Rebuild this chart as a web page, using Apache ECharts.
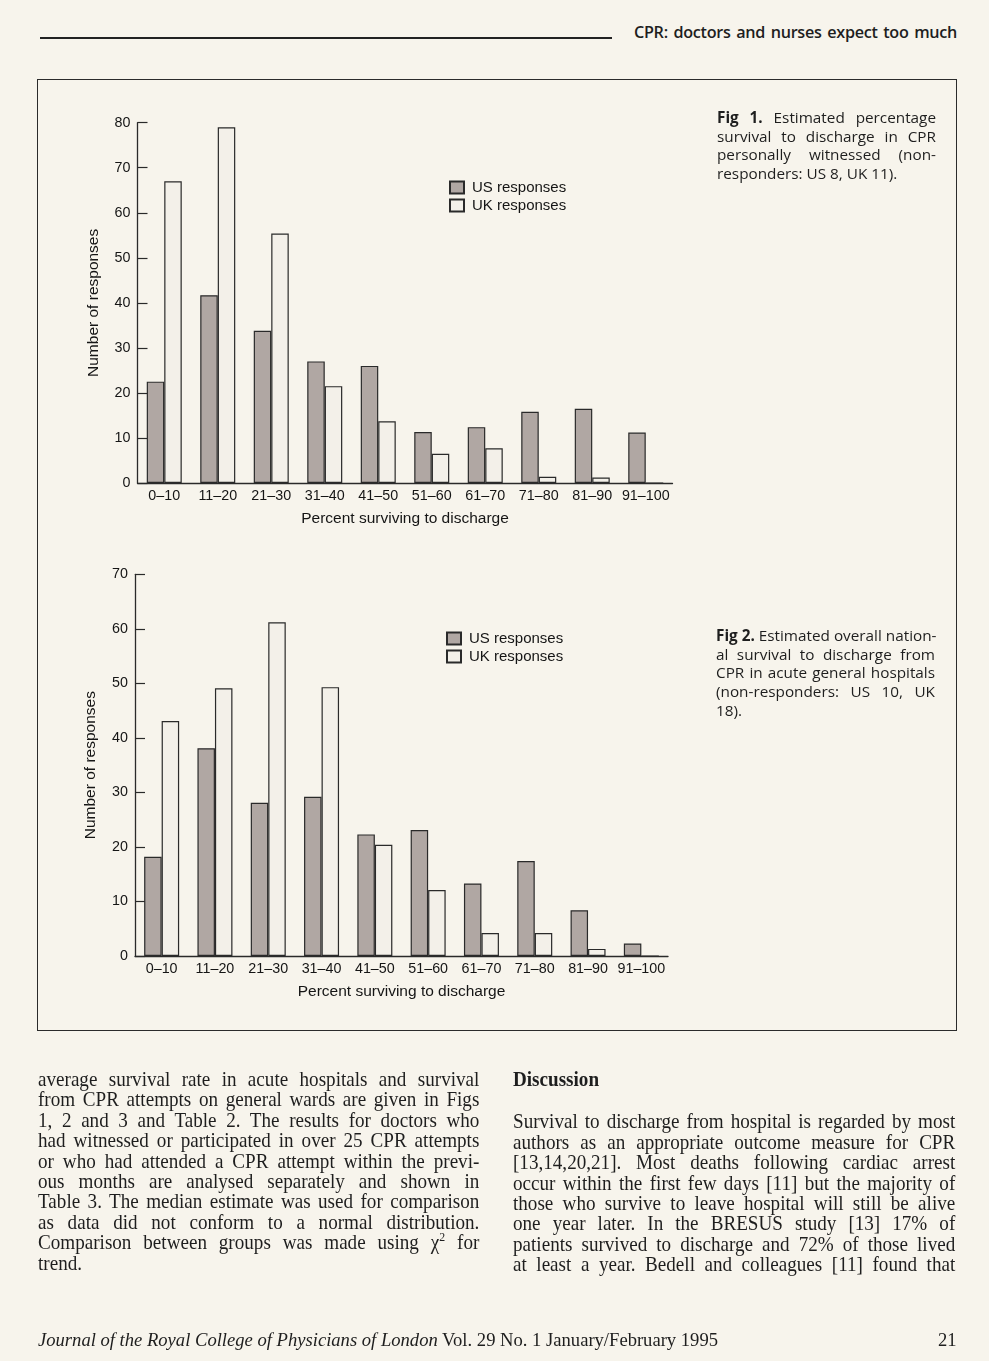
<!DOCTYPE html>
<html>
<head>
<meta charset="utf-8">
<script src="https://cdn.jsdelivr.net/npm/echarts@6/dist/echarts.min.js"></script>
<style>
  html, body { margin:0; padding:0; background:#f7f4ec; }
  #page { position:relative; width:989px; height:1361px; background:#f7f4ec; overflow:hidden; }
  #chart { position:absolute; left:0; top:0; width:989px; height:1361px; }
  .abs { position:absolute; color:#1e1e1e; }
  .jl { text-align:justify; text-align-last:justify; white-space:nowrap; }
  .ll { text-align:left; white-space:nowrap; }
  .cap { font-family:"Open Sans", "DejaVu Sans", sans-serif; font-size:15.3px; line-height:18.7px; width:219px; }
  .body { font-family:"Liberation Serif", "DejaVu Serif", serif; font-size:21px; line-height:20.4px; transform:scaleX(0.91); transform-origin:0 0; }
</style>
</head>
<body>
<div id="page">
  <div class="abs" style="left:37px;top:79px;width:918px;height:950px;border:1.5px solid #2b2b2b;"></div>
  <div class="abs" style="left:40px;top:37px;width:572px;height:2px;background:#222;"></div>
  <div class="abs jl" style="left:634px;top:21px;width:323px;font-family:'Open Sans',sans-serif;font-size:16.2px;font-weight:600;letter-spacing:-0.3px;">CPR: doctors and nurses expect too much</div>
  <div id="chart"></div>

  <div class="abs cap" style="left:717px;top:108px;">
    <div class="jl"><b>Fig 1.</b> Estimated percentage</div>
    <div class="jl">survival to discharge in CPR</div>
    <div class="jl">personally witnessed (non-</div>
    <div class="ll">responders: US 8, UK 11).</div>
  </div>
  <div class="abs cap" style="left:716px;top:626px;">
    <div class="jl"><b>Fig 2.</b> Estimated overall nation-</div>
    <div class="jl">al survival to discharge from</div>
    <div class="jl">CPR in acute general hospitals</div>
    <div class="jl">(non-responders: US 10, UK</div>
    <div class="ll">18).</div>
  </div>

  <div class="abs body" style="left:38px;top:1069px;width:485px;">
    <div class="jl">average survival rate in acute hospitals and survival</div>
    <div class="jl">from CPR attempts on general wards are given in Figs</div>
    <div class="jl">1, 2 and 3 and Table 2. The results for doctors who</div>
    <div class="jl">had witnessed or participated in over 25 CPR attempts</div>
    <div class="jl">or who had attended a CPR attempt within the previ-</div>
    <div class="jl">ous months are analysed separately and shown in</div>
    <div class="jl">Table 3. The median estimate was used for comparison</div>
    <div class="jl">as data did not conform to a normal distribution.</div>
    <div class="jl">Comparison between groups was made using χ<sup style="font-size:13px;line-height:0;">2</sup> for</div>
    <div class="ll">trend.</div>
  </div>
  <div class="abs body" style="left:513px;top:1069px;width:486px;">
    <div class="ll"><b>Discussion</b></div>
    <div style="height:22px;"></div>
    <div class="jl">Survival to discharge from hospital is regarded by most</div>
    <div class="jl">authors as an appropriate outcome measure for CPR</div>
    <div class="jl">[13,14,20,21]. Most deaths following cardiac arrest</div>
    <div class="jl">occur within the first few days [11] but the majority of</div>
    <div class="jl">those who survive to leave hospital will still be alive</div>
    <div class="jl">one year later. In the BRESUS study [13] 17% of</div>
    <div class="jl">patients survived to discharge and 72% of those lived</div>
    <div class="jl">at least a year. Bedell and colleagues [11] found that</div>
  </div>

  <div class="abs" style="left:38px;top:1330px;white-space:nowrap;font-family:'Liberation Serif',serif;font-size:18.6px;line-height:20px;"><i>Journal of the Royal College of Physicians of London</i> Vol. 29 No. 1 January/February 1995</div>
  <div class="abs" style="left:938px;top:1330px;font-family:'Liberation Serif',serif;font-size:18.6px;line-height:20px;">21</div>
</div>
<script>
const categories = ['0–10','11–20','21–30','31–40','41–50','51–60','61–70','71–80','81–90','91–100'];
const fig1US = [22.5, 41.7, 33.8, 27, 26, 11.3, 12.4, 15.8, 16.5, 11.2];
const fig1UK = [67, 79, 55.4, 21.5, 13.7, 6.5, 7.7, 1.4, 1.2, 0];
const fig2US = [18.2, 38.1, 28.1, 29.2, 22.3, 23.1, 13.3, 17.4, 8.4, 2.3];
const fig2UK = [43.1, 49.1, 61.2, 49.3, 20.4, 12.1, 4.2, 4.2, 1.3, 0];
const seriesNames = ['US responses', 'UK responses'];
const yAxisName = 'Number of responses';
const xAxisName = 'Percent surviving to discharge';
const fig1Max = 80, fig2Max = 70, tickStep = 10;

const FONT = '"Liberation Sans", Arial, sans-serif';
const INK = '#151515';
const usStyle = { color:'#b0a7a3', borderColor:'#2a2a2a', borderWidth:1.2 };
const ukStyle = { color:'#f3f0e9', borderColor:'#2a2a2a', borderWidth:1.2 };

function xAxis(gi){
  return {
    type:'category', gridIndex:gi, data:categories,
    axisLine:{show:true, lineStyle:{color:'#2a2a2a', width:1.3}},
    axisTick:{show:false},
    axisLabel:{color:INK, fontFamily:FONT, fontSize:14.3, margin:6, interval:0},
    name:xAxisName, nameLocation:'middle', nameGap:28,
    nameTextStyle:{color:INK, fontFamily:FONT, fontSize:15.5}
  };
}
function yAxis(gi, max){
  return {
    type:'value', gridIndex:gi, min:0, max:max, interval:tickStep,
    axisLine:{show:true, lineStyle:{color:'#2a2a2a', width:1.3}},
    axisTick:{show:true, inside:true, length:10, lineStyle:{color:'#2a2a2a', width:1.2}},
    axisLabel:{color:INK, fontFamily:FONT, fontSize:14.3, margin:7},
    splitLine:{show:false},
    name:yAxisName, nameLocation:'middle', nameGap:36, nameRotate:90,
    nameTextStyle:{color:INK, fontFamily:FONT, fontSize:15.5}
  };
}
function bar(name, data, gi, style){
  return { type:'bar', name:name, data:data, xAxisIndex:gi, yAxisIndex:gi,
    barWidth:17.5, barGap:'0%', itemStyle:style, emphasis:{disabled:true}, animation:false };
}
function legend(left, top, names){
  return { left:left, top:top, orient:'vertical', icon:'rect', itemWidth:14, itemHeight:12, itemGap:3,
    data:names, textStyle:{color:INK, fontFamily:FONT, fontSize:15, padding:[0,0,0,3]},
    selectedMode:false };
}

const chart = echarts.init(document.getElementById('chart'), null, {renderer:'canvas'});
chart.setOption({
  backgroundColor:'transparent',
  animation:false,
  grid:[
    {left:137.5, top:122.7, width:535, height:360.3},
    {left:135, top:574.3, width:533, height:381.7}
  ],
  xAxis:[xAxis(0), xAxis(1)],
  yAxis:[yAxis(0, fig1Max), yAxis(1, fig2Max)],
  legend:[
    legend(444, 175, [seriesNames[0], seriesNames[1]]),
    legend(441, 626, [seriesNames[0]+' ', seriesNames[1]+' '])
  ],
  series:[
    bar(seriesNames[0], fig1US, 0, usStyle),
    bar(seriesNames[1], fig1UK, 0, ukStyle),
    bar(seriesNames[0]+' ', fig2US, 1, usStyle),
    bar(seriesNames[1]+' ', fig2UK, 1, ukStyle)
  ]
});
</script>
</body>
</html>
